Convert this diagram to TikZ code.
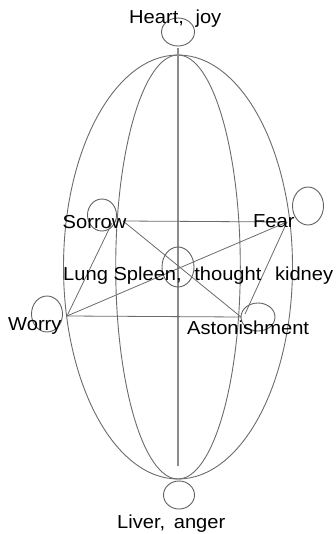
\documentclass[tikz,border=0pt]{standalone}
\usepackage{fontspec}
\setmainfont[FakeStretch=1.07]{Liberation Sans}
\begin{document}
\begin{tikzpicture}[x=1pt,y=-1pt,
  frame/.style={draw=black!58,line width=0.9pt},
  axis/.style={draw=black!45,line width=1.5pt},
  ring/.style={draw=black!62,line width=0.9pt},
  link/.style={draw=black!58,line width=0.8pt},
  lbl/.style={anchor=base west,inner sep=0pt,font=\fontsize{18.8}{20}\selectfont}]
\useasboundingbox (0,0) rectangle (336,534);
% frame
\draw[frame] (178,267) ellipse [x radius=114.5,y radius=212];
\draw[frame] (178,267) ellipse [x radius=62.3,y radius=212];
\coordinate (vtop) at (178,48);
\coordinate (vbot) at (178,466);
\draw[axis] (vtop) -- (vbot);
% small circles
\draw[ring] (178,32) ellipse [x radius=16.5,y radius=14];
\draw[ring] (179,495) ellipse [x radius=15.5,y radius=14];
\draw[ring] (178,267) ellipse [x radius=16,y radius=20];
\draw[ring] (102,215) ellipse [x radius=14.5,y radius=16];
\draw[ring] (308,206) ellipse [x radius=15.5,y radius=19];
\draw[ring] (47,314) ellipse [x radius=15.5,y radius=18];
\draw[ring] (258,317) ellipse [x radius=17,y radius=14];
% link points
\coordinate (so) at (123,221);
\coordinate (so2) at (112,223);
\coordinate (fe) at (287,222);
\coordinate (wo) at (67,316);
\coordinate (as) at (241,317);
\coordinate (as2) at (245,314);
\draw[link] (so) -- (fe);
\draw[link] (wo) -- (as);
\draw[link] (so) -- (as);
\draw[link] (wo) -- (fe);
\draw[link] (wo) -- (so2);
\draw[link] (fe) -- (as2);
% labels
\node[lbl] (heart) at (129,24) {Heart,\hspace{6pt} joy};
\node[lbl] (sorrow) at (62.5,229) {Sorrow};
\node[lbl] (fear) at (253,228) {Fear};
\node[lbl] (center) at (63,280) {Lung Spleen,\hspace{7pt} thought\hspace{8pt} kidney};
\node[lbl] (worry) at (8,330) {Worry};
\node[lbl] (aston) at (187,334) {Astonishment};
\node[lbl] (liver) at (117,528) {Liver,\hspace{3pt} anger};
\end{tikzpicture}
\end{document}
